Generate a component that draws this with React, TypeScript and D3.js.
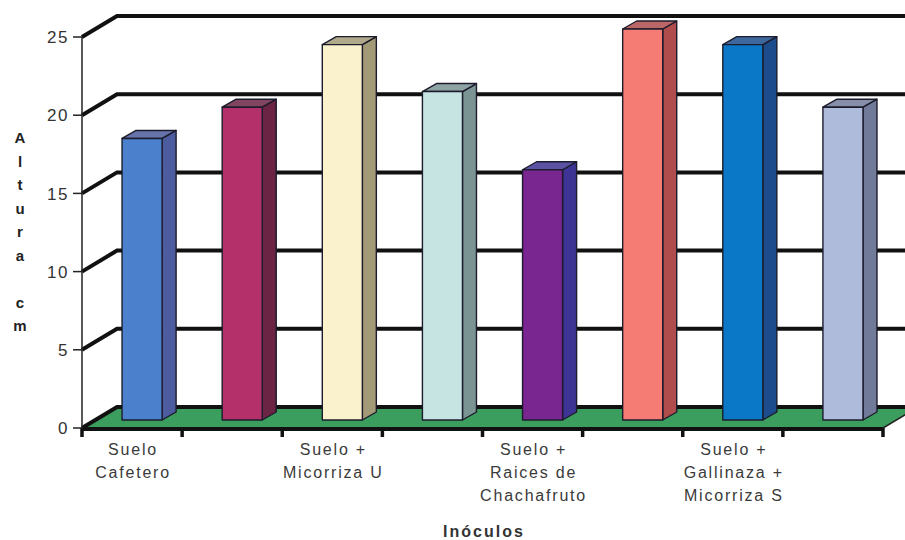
import React from "react";
import * as d3 from "d3";

const categories = ["c1", "c2", "c3", "c4", "c5", "c6", "c7", "c8"];
const values = [18, 20, 24, 21, 16, 25, 24, 20];
const frontColors = ["#4a80cc", "#b3306a", "#faf2cc", "#c6e4e2", "#7a2690", "#f47c74", "#0a78c6", "#aebbdb"];
const sideColors = ["#4c5c9e", "#6c2444", "#a39a78", "#7a9494", "#3e3494", "#b04c4c", "#1c4c8c", "#727a9a"];
const xLabels: { index: number; lines: string[] }[] = [
  { index: 0, lines: ["Suelo", "Cafetero"] },
  { index: 2, lines: ["Suelo +", "Micorriza U"] },
  { index: 4, lines: ["Suelo +", "Raices de", "Chachafruto"] },
  { index: 6, lines: ["Suelo +", "Gallinaza +", "Micorriza S"] },
];
const yTicks = [0, 5, 10, 15, 20, 25];
const yTitle = ["A", "l", "t", "u", "r", "a", "", "c", "m"];
const xTitle = "Inóculos";

export default function App() {
  const W = 905, H = 540;
  const x0 = 82, x1 = 883;
  const y = d3.scaleLinear().domain([0, 25]).range([428, 37]);
  const x = d3.scaleBand().domain(categories).range([x0, x1]).paddingInner(0).paddingOuter(0);
  const DX = 35, DY = -21; // depth of the plot
  const bdx = 14, bdy = -8; // bar depth
  const barOff = 8; // bar front lifted by depth
  const font = "Liberation Sans, Arial, sans-serif";
  const bw = x.bandwidth();

  return (
    <svg width={W} height={H} style={{ position: "absolute", left: 0, top: 0, background: "#fff" }}>
      {/* floor */}
      <polygon
        points={`${x0},${y(0)} ${x0 + DX},${y(0) + DY} ${x1 + DX},${y(0) + DY} ${x1},${y(0)}`}
        fill="#3c9e5e"
        stroke="none"
      />
      {/* gridlines with diagonal */}
      {yTicks.map((t) => (
        <polyline
          key={"g" + t}
          points={`${x0},${y(t)} ${x0 + DX},${y(t) + DY} ${W + 10},${y(t) + DY}`}
          fill="none"
          stroke="#111"
          strokeWidth={4}
        />
      ))}
      {/* floor front edge and right edge */}
      <line x1={x0} y1={y(0) + 1} x2={x1} y2={y(0) + 1} stroke="#111" strokeWidth={4} />
      <line x1={x1} y1={y(0)} x2={x1 + DX} y2={y(0) + DY} stroke="#222" strokeWidth={1.5} />
      {/* y axis */}
      <line x1={x0} y1={y(25)} x2={x0} y2={y(0)} stroke="#222" strokeWidth={1.5} />
      {yTicks.map((t) => (
        <g key={"t" + t}>
          <line x1={x0 - 9} y1={y(t)} x2={x0} y2={y(t)} stroke="#222" strokeWidth={1.5} />
          <text x={x0 - 13} y={y(t)} dy="0.36em" textAnchor="end" fontFamily={font} fontSize={17} letterSpacing={1.5} fill="#333">
            {t}
          </text>
        </g>
      ))}
      {/* x ticks */}
      {categories.concat(["end"]).map((c, i) => {
        const xx = i < categories.length ? (x(c) as number) : x1;
        return <line key={"xt" + i} x1={xx} y1={y(0)} x2={xx} y2={y(0) + 9} stroke="#111" strokeWidth={3.5} />;
      })}
      {/* bars */}
      {categories.map((c, i) => {
        const left = (x(c) as number) + bw * 0.4;
        const right = left + bw * 0.4;
        const bottom = y(0) - barOff;
        const top = y(values[i]) - barOff;
        return (
          <g key={c} stroke="#1c1c2c" strokeWidth={1.4} strokeLinejoin="round">
            <polygon
              points={`${right},${bottom} ${right + bdx},${bottom + bdy} ${right + bdx},${top + bdy} ${right},${top}`}
              fill={sideColors[i]}
            />
            <polygon
              points={`${left},${top} ${left + bdx},${top + bdy} ${right + bdx},${top + bdy} ${right},${top}`}
              fill={sideColors[i]}
              fillOpacity={0.85}
            />
            <rect x={left} y={top} width={right - left} height={bottom - top} fill={frontColors[i]} />
          </g>
        );
      })}
      {/* x labels */}
      {xLabels.map((l) => {
        const cx = (x(categories[l.index]) as number) + bw / 2 + 1;
        return (
          <text key={"xl" + l.index} x={cx} y={455} textAnchor="middle" fontFamily={font} fontSize={16} letterSpacing={1.8} fill="#3a3a3a">
            {l.lines.map((s, j) => (
              <tspan key={j} x={cx} dy={j === 0 ? 0 : 23}>
                {s}
              </tspan>
            ))}
          </text>
        );
      })}
      {/* axis titles */}
      <text x={484} y={537} textAnchor="middle" fontFamily={font} fontSize={16} fontWeight="bold" letterSpacing={2} fill="#333">
        {xTitle}
      </text>
      {yTitle.map((ch, i) => (
        <text key={"yt" + i} x={20} y={138 + i * 23.5} dy="0.36em" textAnchor="middle" fontFamily={font} fontSize={15} fontWeight="bold" fill="#222">
          {ch}
        </text>
      ))}
    </svg>
  );
}
